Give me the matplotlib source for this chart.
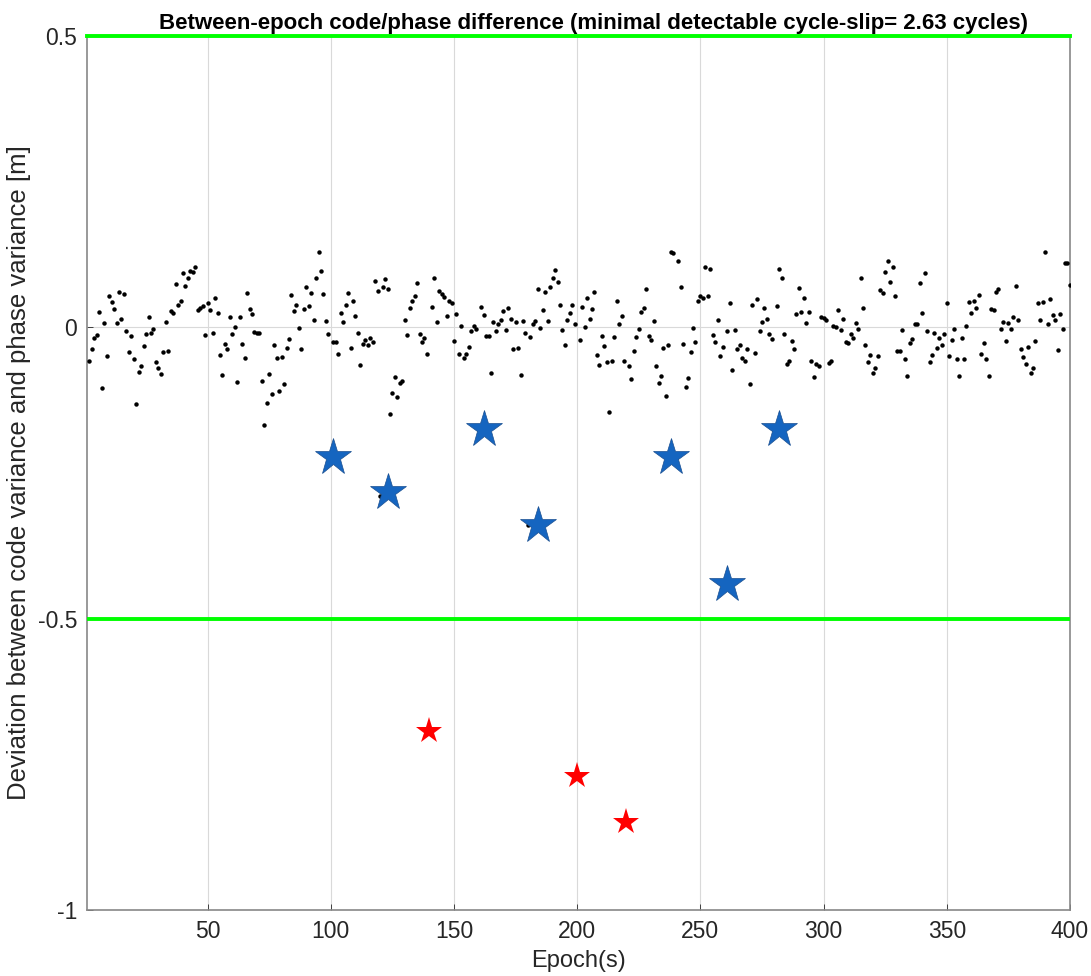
import numpy as np
import matplotlib
matplotlib.use("Agg")
import matplotlib.pyplot as plt

plt.rcParams['font.family'] = ['Liberation Sans', 'DejaVu Sans']
plt.rcParams['axes.unicode_minus'] = False

# between-epoch deviation [m], one value per epoch starting at epoch 2
deviation = [
    # 2-51
    -0.058, -0.038, -0.019, -0.013, 0.027, -0.104, 0.008, -0.049, 0.053, 0.043,
    0.032, 0.008, 0.060, 0.015, 0.057, -0.006, -0.042, -0.014, -0.055, -0.131,
    -0.077, -0.066, -0.032, -0.012, 0.017, -0.010, -0.002, -0.060, -0.069, -0.080,
    -0.042, 0.009, -0.040, 0.028, 0.024, 0.074, 0.038, 0.045, 0.094, 0.071,
    0.084, 0.097, 0.095, 0.103, 0.030, 0.034, 0.036, -0.013, 0.041, 0.029,
    # 52-99
    -0.010, 0.050, 0.025, -0.047, -0.082, -0.029, -0.037, 0.017, -0.011, 0.001,
    -0.094, 0.018, -0.029, -0.053, 0.059, 0.032, 0.023, -0.008, -0.009, -0.010,
    -0.092, -0.168, -0.129, -0.080, -0.115, -0.031, -0.053, -0.110, -0.051, -0.098,
    -0.036, -0.020, 0.055, 0.028, 0.039, -0.001, -0.037, 0.032, 0.069, 0.036,
    0.059, 0.013, 0.085, 0.130, 0.096, 0.058, 0.011, -0.012,
    # 100-119
    -0.223,
    -0.025, -0.026, -0.045, 0.024, 0.010, 0.039, 0.059, -0.035, 0.045, 0.019,
    -0.010, -0.065, -0.029, -0.022, -0.030, -0.019, -0.026, 0.080, 0.062,
    # 120-139
    -0.289,
    0.069, 0.083, 0.066, -0.148, -0.112, -0.086, -0.119, -0.096, -0.092, 0.012,
    -0.013, 0.033, 0.045, 0.053, 0.076, -0.012, -0.026, -0.019, -0.045,
    # 140-159
    -0.690,
    0.035, 0.084, 0.010, 0.062, 0.057, 0.052, 0.019, 0.046, 0.042, -0.023,
    0.023, -0.045, 0.003, -0.052, -0.045, -0.034, -0.007, 0.003, -0.002,
    # 160-179
    -0.176,
    0.035, 0.022, -0.015, -0.015, -0.078, 0.009, -0.007, 0.005, 0.013, 0.028,
    -0.004, 0.034, 0.015, -0.038, 0.009, -0.035, -0.081, 0.011, -0.010,
    # 180-199
    -0.340,
    -0.017, 0.006, 0.011, 0.066, -0.001, 0.030, 0.060, 0.011, 0.070, 0.084,
    0.099, 0.078, 0.038, -0.005, -0.030, 0.013, 0.025, 0.038, 0.006,
    # 200-219
    -0.770,
    -0.021, 0.035, 0.001, 0.050, 0.014, 0.031, 0.061, -0.047, -0.064, -0.015,
    -0.032, -0.059, -0.145, -0.057, -0.016, 0.045, 0.005, 0.020, -0.057,
    # 220-239
    -0.849,
    -0.067, -0.089, -0.041, -0.017, -0.003, 0.027, 0.034, 0.065, -0.015, -0.021,
    0.011, -0.066, -0.096, -0.084, -0.036, -0.118, -0.030, 0.129, 0.128,
    # 240-259
    -0.224,
    0.114, 0.069, -0.029, -0.102, -0.087, -0.042, -0.001, -0.025, 0.045, 0.054,
    0.051, 0.104, 0.053, 0.100, -0.013, -0.026, 0.013, -0.050, -0.033,
    # 260-279
    -0.442,
    -0.006, 0.041, -0.073, -0.005, -0.038, -0.030, -0.053, -0.057, -0.038, -0.097,
    0.039, -0.044, 0.048, -0.006, 0.010, 0.033, 0.014, -0.012, -0.020,
    # 280-294
    -0.176,
    0.037, 0.100, 0.084, -0.011, -0.063, -0.058, -0.023, -0.038, 0.023, 0.067,
    0.026, 0.051, 0.007, 0.027,
    # 295-343
    -0.058, -0.086, -0.063, -0.067, 0.017, 0.016, 0.013, -0.062, -0.058, 0.003,
    0.001, 0.030, -0.005, 0.014, -0.025, -0.027, -0.011, -0.018, 0.007, -0.003,
    0.085, 0.034, -0.030, -0.059, -0.047, -0.078, -0.070, -0.050, 0.064, 0.059,
    0.095, 0.114, 0.077, 0.104, 0.053, -0.041, -0.041, -0.005, -0.055, -0.083,
    -0.027, -0.020, 0.005, 0.005, 0.076, 0.025, 0.093, -0.006, -0.059,
    # 344-400
    -0.048, -0.009, -0.035, -0.018, -0.030, -0.012, 0.042, -0.049, -0.022, -0.002,
    -0.055, -0.084, -0.018, -0.054, 0.002, 0.044, 0.025, 0.046, 0.033, 0.056,
    -0.045, -0.027, -0.054, -0.083, 0.032, 0.029, 0.061, 0.066, -0.003, 0.010,
    -0.023, 0.007, -0.002, 0.018, 0.071, 0.013, -0.038, -0.051, -0.063, -0.033,
    -0.079, -0.069, -0.023, 0.041, 0.012, 0.043, 0.130, 0.006, 0.048, 0.022,
    0.012, -0.039, 0.023, -0.002, 0.110, 0.110, 0.073,
]
first_epoch = 2

# detected slips (blue) and undetected ones beyond threshold (red)
slip_epochs = [101, 123, 162, 184, 238, 261, 282]
slip_dev = [-0.222, -0.282, -0.175, -0.340, -0.222, -0.441, -0.175]
big_slip_epochs = [140, 200, 220]
big_slip_dev = [-0.692, -0.770, -0.849]

threshold = 0.5
y_ticks = [-1, -0.5, 0, 0.5]
y_tick_labels = ['-1', '-0.5', '0', '0.5']
x_ticks = [50, 100, 150, 200, 250, 300, 350, 400]

epochs = np.arange(first_epoch, first_epoch + len(deviation))

fig = plt.figure(figsize=(10.91, 9.76), dpi=100)
ax = fig.add_axes([0.0797, 0.0676, 0.9010, 0.8955])

ax.plot(epochs, deviation, 'o', color='black', markersize=3.2, markeredgewidth=0, zorder=3)
ax.axhline(threshold, color='#00ff00', linewidth=2.8, zorder=4, clip_on=False)
ax.axhline(-threshold, color='#00ff00', linewidth=2.8, zorder=4)
ax.plot(slip_epochs, slip_dev, '*', color='#1565c0', markeredgecolor='#1a4f90',
        markeredgewidth=0.5, markersize=28, zorder=5)
ax.plot(big_slip_epochs, big_slip_dev, '*', color='#ff0000', markeredgewidth=0,
        markersize=20, zorder=5)

ax.set_xlim(1, 400)
ax.set_ylim(-1, 0.5)
ax.set_xticks(x_ticks)
ax.set_yticks(y_ticks)
ax.set_yticklabels(y_tick_labels)
ax.grid(True, color='#d9d9d9', linewidth=0.8)
ax.set_axisbelow(True)
ax.tick_params(direction='in', length=4, labelsize=16.5, colors='#262626', width=0.6, pad=7)
for s in ax.spines.values():
    s.set_color('#888888')
    s.set_linewidth(1.2)

ax.set_title('Between-epoch code/phase difference (minimal detectable cycle-slip= 2.63 cycles)',
             fontsize=16, fontweight='bold', pad=5, x=0.515)
ax.set_xlabel('Epoch(s)', fontsize=17, color='#262626', labelpad=5)
ax.set_ylabel('Deviation between code variance and phase variance [m]', fontsize=18.5,
              color='#262626', labelpad=5)

fig.savefig('out.png', dpi=100)
